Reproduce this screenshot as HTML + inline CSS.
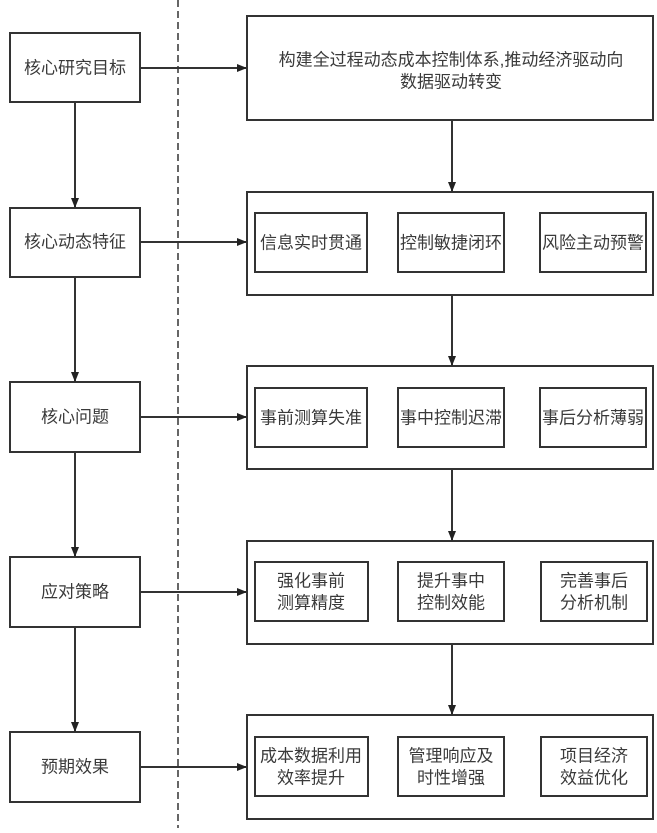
<!DOCTYPE html>
<html><head><meta charset="utf-8"><style>
html,body{margin:0;padding:0;background:#fff;}
svg text{font-family:"Liberation Sans","Noto Sans CJK SC",sans-serif;font-size:17px;fill:#3a3a3a;text-anchor:middle;dominant-baseline:central;}
</style></head><body>
<svg width="657" height="828" viewBox="0 0 657 828" xmlns="http://www.w3.org/2000/svg">
<defs><marker id="a" viewBox="0 0 10 10" refX="10" refY="5" markerWidth="10" markerHeight="10" markerUnits="userSpaceOnUse" orient="auto"><path d="M0,1 L10,5 L0,9 z" fill="#222"/></marker></defs>
<g stroke="#333" stroke-width="2" fill="none">
<line x1="178" y1="0" x2="178" y2="828" stroke-width="1.5" stroke-dasharray="7,4"/>
<rect x="10" y="33" width="130" height="69"/>
<rect x="10" y="208" width="130" height="69"/>
<rect x="10" y="382" width="130" height="70"/>
<rect x="10" y="557" width="130" height="70"/>
<rect x="10" y="732" width="130" height="70"/>
<line x1="75" y1="102" x2="75" y2="208" marker-end="url(#a)"/>
<line x1="75" y1="277" x2="75" y2="382" marker-end="url(#a)"/>
<line x1="75" y1="452" x2="75" y2="557" marker-end="url(#a)"/>
<line x1="75" y1="627" x2="75" y2="732" marker-end="url(#a)"/>
<line x1="140" y1="68" x2="247" y2="68" marker-end="url(#a)"/>
<line x1="140" y1="242" x2="247" y2="242" marker-end="url(#a)"/>
<line x1="140" y1="417" x2="247" y2="417" marker-end="url(#a)"/>
<line x1="140" y1="592" x2="247" y2="592" marker-end="url(#a)"/>
<line x1="140" y1="767" x2="247" y2="767" marker-end="url(#a)"/>
<rect x="247" y="16" width="406" height="104"/>
<rect x="247" y="192" width="406" height="103"/>
<rect x="247" y="366" width="406" height="103"/>
<rect x="247" y="541" width="406" height="103"/>
<rect x="247" y="715" width="406" height="104"/>
<line x1="452" y1="120" x2="452" y2="192" marker-end="url(#a)"/>
<line x1="452" y1="295" x2="452" y2="366" marker-end="url(#a)"/>
<line x1="452" y1="469" x2="452" y2="541" marker-end="url(#a)"/>
<line x1="452" y1="644" x2="452" y2="715" marker-end="url(#a)"/>
<rect x="255" y="213" width="112" height="59"/><rect x="398" y="213" width="106" height="59"/><rect x="540" y="213" width="106" height="59"/>
<rect x="255" y="388" width="112" height="59"/><rect x="398" y="388" width="106" height="59"/><rect x="540" y="388" width="106" height="59"/>
<rect x="255" y="562" width="113" height="59"/><rect x="398" y="562" width="106" height="59"/><rect x="541" y="562" width="106" height="59"/>
<rect x="255" y="737" width="113" height="59"/><rect x="398" y="737" width="106" height="59"/><rect x="541" y="737" width="106" height="59"/>
</g>
<text x="75" y="68">核心研究目标</text>
<text x="75" y="242">核心动态特征</text>
<text x="75" y="417">核心问题</text>
<text x="75" y="592">应对策略</text>
<text x="75" y="767">预期效果</text>
<text x="451" y="60">构建全过程动态成本控制体系,推动经济驱动向</text>
<text x="451" y="82">数据驱动转变</text>
<text x="311" y="243">信息实时贯通</text><text x="451" y="243">控制敏捷闭环</text><text x="593" y="243">风险主动预警</text>
<text x="311" y="418">事前测算失准</text><text x="451" y="418">事中控制迟滞</text><text x="593" y="418">事后分析薄弱</text>
<text x="311" y="581">强化事前</text><text x="311" y="603">测算精度</text>
<text x="451" y="581">提升事中</text><text x="451" y="603">控制效能</text>
<text x="594" y="581">完善事后</text><text x="594" y="603">分析机制</text>
<text x="311" y="756">成本数据利用</text><text x="311" y="778">效率提升</text>
<text x="451" y="756">管理响应及</text><text x="451" y="778">时性增强</text>
<text x="594" y="756">项目经济</text><text x="594" y="778">效益优化</text>
</svg>
</body></html>
